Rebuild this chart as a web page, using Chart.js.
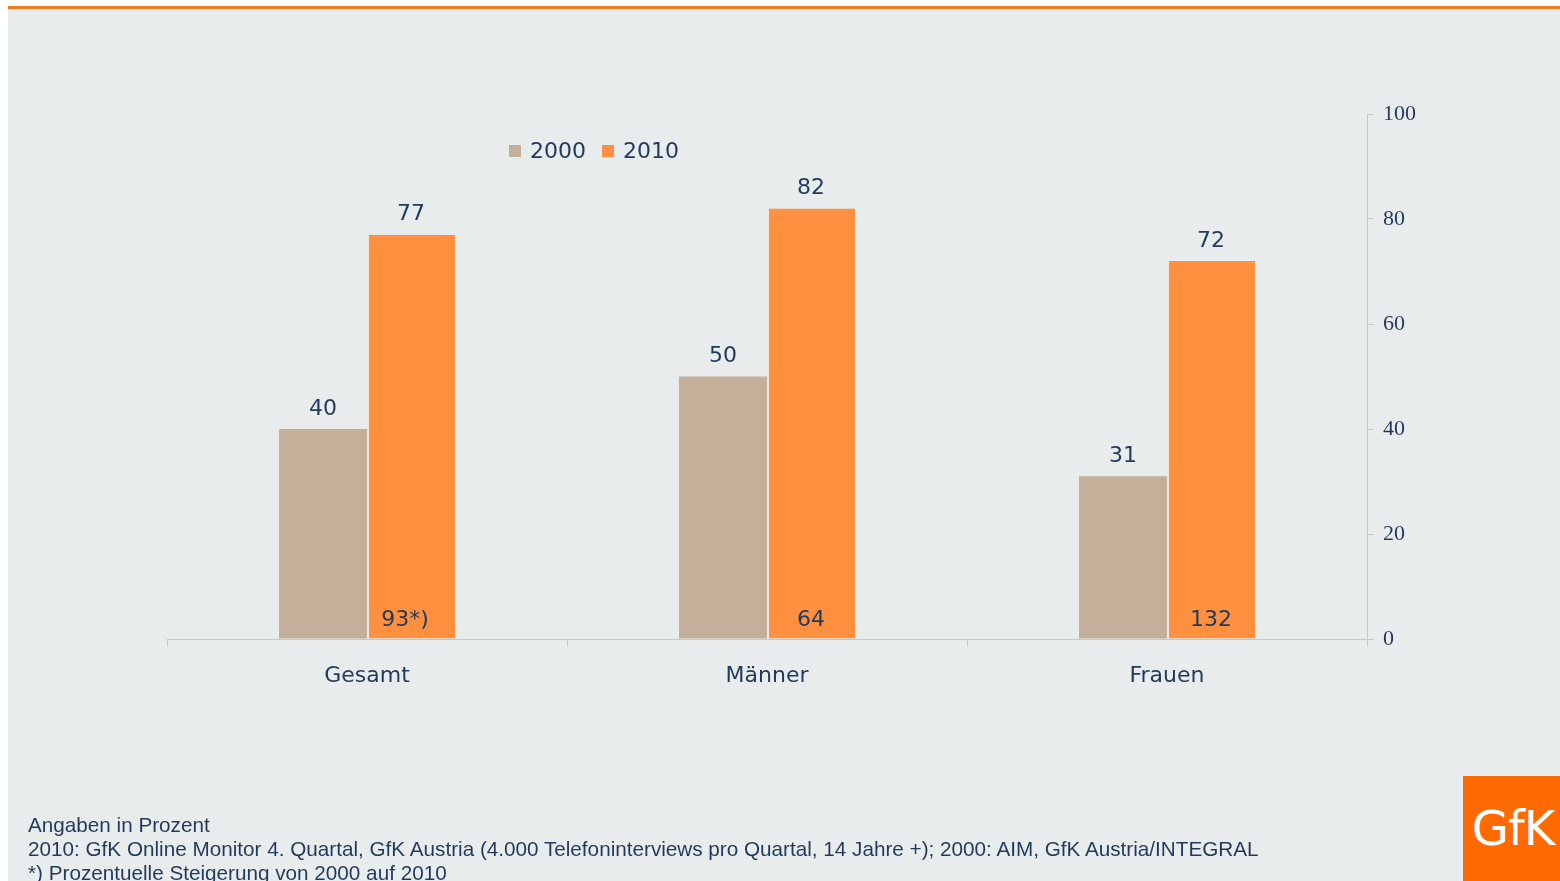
<!DOCTYPE html>
<html lang="de">
<head>
    <meta charset="UTF-8">
    <title>Internetnutzung 2000 / 2010</title>
    <script src="https://cdn.jsdelivr.net/npm/chart.js@4.4.1/dist/chart.umd.js"></script>
    <style>
        html, body { margin: 0; padding: 0; background: #fff; }
        body { width: 1560px; height: 881px; position: relative; overflow: hidden; font-family: "DejaVu Sans", sans-serif; }
        .panel { position: absolute; left: 8px; top: 9px; right: 0; bottom: 0; background: #e9ecec; }
        .topline { position: absolute; left: 8px; top: 6px; right: 0; height: 3px; background: #f47a20; }
        .chart-box { position: absolute; left: 0; top: 0; width: 1560px; height: 881px; }
        .notes { position: absolute; left: 28px; top: 813px; font-family: "Liberation Sans", Arial, sans-serif; font-size: 20.7px; line-height: 24px; color: #1f3a5a; white-space: nowrap; }
        .logo { position: absolute; left: 1463px; top: 776px; width: 97px; height: 105px; background: #ff6a00; color: #fff; font-family: "DejaVu Sans", sans-serif; font-size: 48px; line-height: 105px; text-align: center; letter-spacing: -1px; padding-left: 3px; box-sizing: border-box; }
    </style>
</head>
<body>
    <div class="panel"></div>
    <div class="topline"></div>
    <div class="chart-box"><canvas id="chart" width="1560" height="881"></canvas></div>
    <div class="notes">
        Angaben in Prozent<br>
        2010: GfK Online Monitor 4. Quartal, GfK Austria (4.000 Telefoninterviews pro Quartal, 14 Jahre +); 2000: AIM, GfK Austria/INTEGRAL<br>
        *) Prozentuelle Steigerung von 2000 auf 2010
    </div>
    <div class="logo">GfK</div>

    <script>
        // data
        const categories = ['Gesamt', 'Männer', 'Frauen'];
        const seriesLabels = ['2000', '2010'];
        const values2000 = [40, 50, 31];
        const values2010 = [77, 82, 72];
        const increaseLabels = ['93*)', '64', '132'];
        const yTicks = [0, 20, 40, 60, 80, 100];

        const navy = '#1f3a5a';
        const colors = ['#c4af9b', '#ff9040'];

        // value labels above bars + increase inside the 2010 bars
        const labelPlugin = {
            id: 'barLabels',
            afterDatasetsDraw(chart) {
                const ctx = chart.ctx;
                ctx.save();
                ctx.fillStyle = navy;
                ctx.font = '22px "DejaVu Sans"';
                ctx.textAlign = 'center';
                ctx.textBaseline = 'bottom';
                chart.data.datasets.forEach((ds, i) => {
                    chart.getDatasetMeta(i).data.forEach((bar, j) => {
                        ctx.fillText(ds.data[j], bar.x, bar.y - 9);
                    });
                });
                const meta = chart.getDatasetMeta(1);
                ctx.textBaseline = 'alphabetic';
                meta.data.forEach((bar, j) => {
                    ctx.fillText(increaseLabels[j], bar.x - (j === 0 ? 6 : 0), bar.base - 13);
                });
                ctx.restore();
            }
        };

        // legend drawn at the top left of the plot, like the original
        const legendPlugin = {
            id: 'topLegend',
            afterDraw(chart) {
                const ctx = chart.ctx;
                ctx.save();
                ctx.font = '22px "DejaVu Sans"';
                ctx.textBaseline = 'middle';
                let x = 509;
                const y = 151;
                chart.data.datasets.forEach(ds => {
                    ctx.fillStyle = ds.backgroundColor;
                    ctx.fillRect(x, y - 6, 12, 12);
                    ctx.fillStyle = navy;
                    ctx.fillText(ds.label, x + 21, y + 1);
                    x += 21 + ctx.measureText(ds.label).width + 16;
                });
                ctx.restore();
            }
        };

        new Chart(document.getElementById('chart'), {
            type: 'bar',
            data: {
                labels: categories,
                datasets: [
                    { label: seriesLabels[0], data: values2000, backgroundColor: colors[0] },
                    { label: seriesLabels[1], data: values2010, backgroundColor: colors[1],
                      borderWidth: { left: 2, right: 0, top: 0, bottom: 0 }, borderColor: '#efe6dc', borderSkipped: false }
                ]
            },
            options: {
                responsive: false,
                animation: false,
                layout: { padding: { left: 167, right: 133, top: 114, bottom: 183 } },
                datasets: { bar: { barPercentage: 1, categoryPercentage: 0.44 } },
                plugins: {
                    legend: { display: false },
                    tooltip: { enabled: false }
                },
                scales: {
                    x: {
                        offset: true,
                        grid: { offset: true, drawOnChartArea: false, drawTicks: true, tickLength: 8, color: '#c8c8c8' },
                        border: { color: '#c8c8c8', width: 1 },
                        ticks: { color: navy, font: { family: 'DejaVu Sans', size: 22 }, padding: 16 },
                        afterFit(scale) { scale.height = 59; }
                    },
                    y: {
                        position: 'right',
                        min: 0,
                        max: 100,
                        afterBuildTicks(scale) { scale.ticks = yTicks.map(v => ({ value: v })); },
                        grid: { drawOnChartArea: false, drawTicks: true, tickLength: 7, color: '#c8c8c8' },
                        border: { color: '#c8c8c8', width: 1 },
                        ticks: { color: navy, font: { family: 'Liberation Serif', size: 22 }, padding: 9 },
                        afterFit(scale) { scale.width = 60; }
                    }
                }
            },
            plugins: [labelPlugin, legendPlugin]
        });
    </script>
</body>
</html>
